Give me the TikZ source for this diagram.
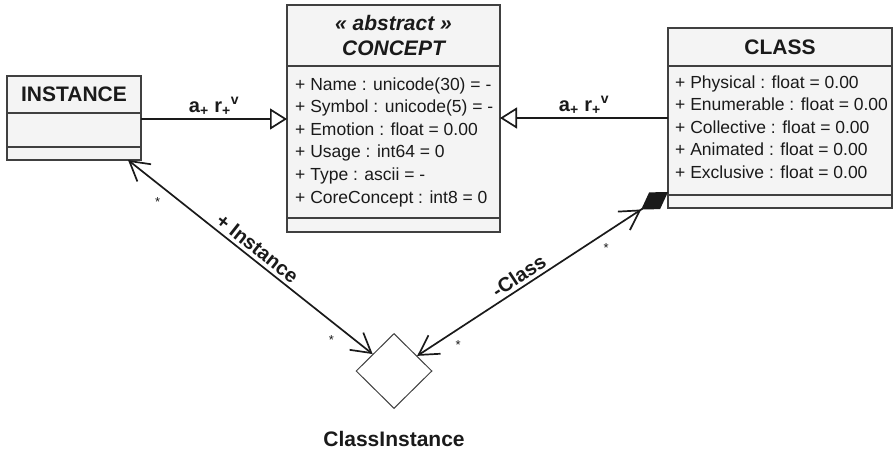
\documentclass[tikz,border=0pt]{standalone}
\usepackage{fontspec}
\setmainfont{Liberation Sans}
\usetikzlibrary{arrows.meta, shapes.geometric, calc}

\definecolor{umlfill}{HTML}{F4F4F4}
\definecolor{umlline}{HTML}{404040}
\definecolor{umltext}{HTML}{1A1A1A}

\begin{document}
\begin{tikzpicture}[x=1pt, y=-1pt, text=umltext,
    box/.style={draw=umlline, fill=umlfill, line width=1.2pt, inner sep=0pt, outer sep=0pt, anchor=north west},
    title/.style={font=\fontsize{21}{25}\selectfont\bfseries},
    attr/.style={font=\fontsize{17.5}{20}\selectfont, anchor=base west, inner sep=0pt},
    role/.style={font=\fontsize{20}{22}\selectfont\bfseries},
    mult/.style={font=\fontsize{13}{14}\selectfont, inner sep=0pt},
    link/.style={draw=umltext, line width=1.7pt},
    umlbarb/.tip={Straight Barb[length=19pt, width=22pt, sep=0pt]}]

    \useasboundingbox (0,0) rectangle (893,452);

    % INSTANCE
    \node [box, title, minimum width=134, minimum height=37] (inst) at (7,76) {INSTANCE};
    \node [box, minimum width=134, minimum height=34] (inst-a) at (inst.south west) {};
    \node [box, minimum width=134, minimum height=13] (inst-o) at (inst-a.south west) {};

    % CONCEPT
    \node [box, title, align=center, minimum width=213, minimum height=61] (cpt) at (287,5)
        {\itshape « abstract »\\\itshape CONCEPT};
    \node [box, minimum width=213, minimum height=152] (cpt-a) at (cpt.south west) {};
    \node [box, minimum width=213, minimum height=14] (cpt-o) at (cpt-a.south west) {};
    \foreach \t [count=\i from 0] in {+ Name : unicode(30) = -, + Symbol : unicode(5) = -,
        + Emotion : float = 0.00, + Usage : int64 = 0, + Type : ascii = -, + CoreConcept : int8 = 0}
        \node [attr] (cpt-l\i) at (295, 90+22.6*\i) {\t};

    % CLASS
    \node [box, title, minimum width=224, minimum height=38] (cls) at (668,28) {CLASS};
    \node [box, minimum width=224, minimum height=129] (cls-a) at (cls.south west) {};
    \node [box, minimum width=224, minimum height=13] (cls-o) at (cls-a.south west) {};
    \foreach \t [count=\i from 0] in {+ Physical : float = 0.00, + Enumerable : float = 0.00,
        + Collective : float = 0.00, + Animated : float = 0.00, + Exclusive : float = 0.00}
        \node [attr] (cls-l\i) at (675, 88+22.5*\i) {\t};

    % association class
    \node [diamond, draw=umlline, fill=white, line width=1pt, inner sep=0pt,
        minimum width=76, minimum height=75] (ci) at (394,371) {};
    \node [title, anchor=base] (ci-name) at (394,446) {ClassInstance};

    % generalisations
    \draw [link, -{Triangle[open, length=17pt, width=21pt]}]
        ($(inst-a.north east)+(0,6)$) coordinate (g1) -- (g1 -| cpt-a.west)
        node [role, midway, above, inner sep=3pt] (g1-lbl) {a\textsubscript{+} r\textsubscript{+}\textsuperscript{v}};
    \draw [link, -{Triangle[open, length=17pt, width=21pt]}]
        ($(cls-a.north west)+(0,52)$) coordinate (g2) -- (g2 -| cpt-a.east)
        node [role, midway, above, inner sep=3pt] (g2-lbl) {a\textsubscript{+} r\textsubscript{+}\textsuperscript{v}};

    % associations
    \coordinate (inst-end) at ($(inst-o.south east)+(-13,0)$);
    \coordinate (cls-end) at ($(cls-a.south west)+(0,-3)$);
    \draw [link, {umlbarb[]}-{umlbarb[]}] (inst-end) -- (ci)
        node [role, midway, sloped, above] (r1) {+ Instance}
        node [mult, pos=0.16, below left=6pt] (m1) {*}
        node [mult, pos=0.87, below left=6pt] (m2) {*};
    \draw [link, {umlbarb[]}-{umlbarb[] Diamond[length=32pt, width=20pt, sep=0pt]}] (ci) -- (cls-end)
        node [role, pos=0.43, sloped, above] (r2) {-Class}
        node [mult, pos=0.13, below right=5pt] (m3) {*}
        node [mult, pos=0.72, below right=5pt] (m4) {*};
\end{tikzpicture}
\end{document}
